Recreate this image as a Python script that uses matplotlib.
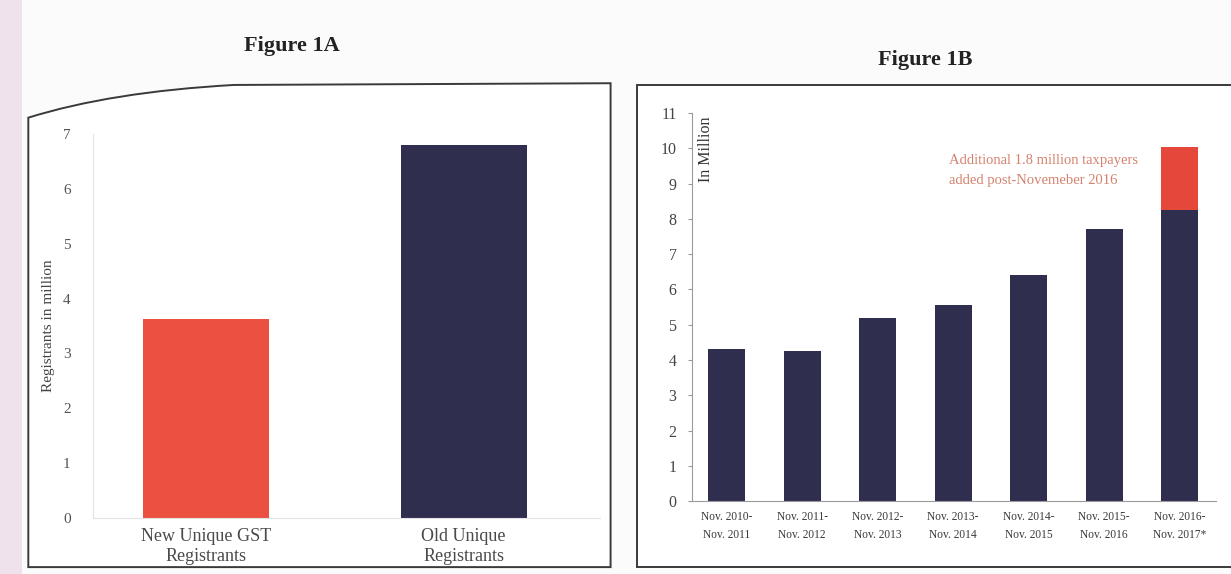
import matplotlib.pyplot as plt
import matplotlib.patches as mpatches
from matplotlib.path import Path
import numpy as np

# ---- Data ----
reg_labels = ["New Unique GST\nRegistrants", "Old Unique\nRegistrants"]
reg_values = [3.63, 6.8]

periods = ["Nov. 2010-\nNov. 2011", "Nov. 2011-\nNov. 2012", "Nov. 2012-\nNov. 2013",
           "Nov. 2013-\nNov. 2014", "Nov. 2014-\nNov. 2015", "Nov. 2015-\nNov. 2016",
           "Nov. 2016-\nNov. 2017*"]
taxpayers = [4.3, 4.25, 5.2, 5.55, 6.4, 7.7, 8.25]
additional = [0, 0, 0, 0, 0, 0, 1.8]

# ---- Styles ----
NAVY = "#2f2e4f"
RED_A = "#ec5040"
RED_B = "#e5473a"
NOTE = "#d4826e"
TXT = "#4a4a4a"
BG = "#fbfbfb"
SERIF = ["Liberation Serif", "DejaVu Serif"]

plt.rcParams["font.family"] = SERIF

fig = plt.figure(figsize=(12.31, 5.74), dpi=100, facecolor=BG)

# page edge strip
fig.patches.append(mpatches.Rectangle((0, 0), 0.018, 1, transform=fig.transFigure,
                                      facecolor="#efe2ec", edgecolor="none", zorder=-2))

# frame of the left panel, top edge bent where the page curls
frame_a = Path(
    [(0.023, 0.012), (0.023, 0.795), (0.09, 0.84), (0.19, 0.852),
     (0.496, 0.855), (0.496, 0.012), (0.023, 0.012)],
    [Path.MOVETO, Path.LINETO, Path.CURVE3, Path.CURVE3,
     Path.LINETO, Path.LINETO, Path.CLOSEPOLY])
fig.patches.append(mpatches.PathPatch(frame_a, transform=fig.transFigure,
                                      facecolor="white", edgecolor="#3a3a3a", lw=1.4, zorder=-2))
fig.patches.append(mpatches.Rectangle((0.5175, 0.012), 0.5, 0.84, transform=fig.transFigure,
                                      facecolor="white", edgecolor="#3a3a3a", lw=1.4, zorder=-2))

fig.text(0.237, 0.92, "Figure 1A", ha="center", va="center",
         fontsize=16, fontweight="bold", color="#222")
fig.text(0.752, 0.895, "Figure 1B", ha="center", va="center",
         fontsize=16, fontweight="bold", color="#222")

# ---- Figure 1A ----
ax1 = fig.add_axes([0.0755, 0.0976, 0.412, 0.669])
x1 = np.arange(len(reg_values))
ax1.bar(x1, reg_values, width=0.49, color=[RED_A, NAVY])
ax1.set_xlim(-0.44, 1.53)
ax1.set_ylim(0, 7)
ax1.set_yticks(range(0, 8))
ax1.set_xticks(x1)
ax1.set_xticklabels(reg_labels, fontsize=13, color=TXT, linespacing=1.25)
ax1.tick_params(axis="y", length=0, labelsize=11, labelcolor="#555", pad=16)
ax1.tick_params(axis="x", length=0, pad=7)
ax1.set_ylabel("Registrants in million", fontsize=11, color="#444", labelpad=6)
for s in ["top", "right"]:
    ax1.spines[s].set_visible(False)
for s in ["left", "bottom"]:
    ax1.spines[s].set_color("#e2e2e2")
    ax1.spines[s].set_linewidth(0.8)
ax1.set_facecolor("white")

# ---- Figure 1B ----
ax2 = fig.add_axes([0.562, 0.127, 0.4257, 0.676])
x2 = np.arange(len(taxpayers))
ax2.bar(x2, taxpayers, width=0.49, color=NAVY)
ax2.bar(x2, additional, width=0.49, bottom=taxpayers, color=RED_B)
ax2.set_xlim(-0.46, 6.48)
ax2.set_ylim(0, 11)
ax2.set_yticks(range(0, 12))
ax2.set_xticks(x2)
ax2.set_xticklabels(periods, fontsize=8.3, color="#3a3a3a", linespacing=1.65)
ax2.tick_params(axis="y", length=3, color="#999", labelsize=11.5, labelcolor="#444", pad=8)
ax2.tick_params(axis="x", length=0, pad=7)
for s in ["top", "right"]:
    ax2.spines[s].set_visible(False)
for s in ["left", "bottom"]:
    ax2.spines[s].set_color("#9a9a9a")
    ax2.spines[s].set_linewidth(0.8)
ax2.set_facecolor("white")
ax2.text(0.027, 0.99, "In Million", transform=ax2.transAxes, rotation=90,
         ha="center", va="top", fontsize=11.5, color="#333")
ax2.text(2.95, 9.85, "Additional 1.8 million taxpayers\nadded post-Novemeber 2016",
         ha="left", va="top", fontsize=10.5, color=NOTE, linespacing=1.75)

plt.savefig("out.png", dpi=100, facecolor=BG)
